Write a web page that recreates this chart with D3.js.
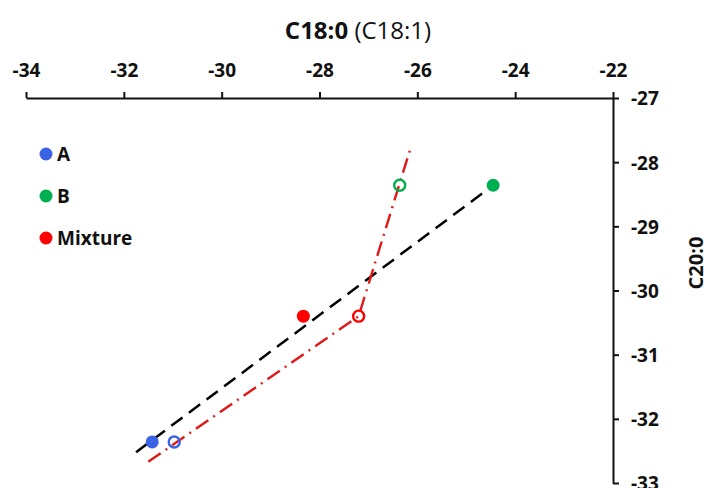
<!DOCTYPE html>
<html>
<head>
<meta charset="utf-8">
<script src="https://cdn.jsdelivr.net/npm/d3@7"></script>
<style>
  body { margin: 0; background: #fff; }
  text { font-family: "Open Sans", sans-serif; }
</style>
</head>
<body>
<div id="chart"></div>
<script>
// data
var groups = ["A", "B", "Mixture"];
var colors = ["#3a63e6", "#00b050", "#ff0000"];
// C18:0 (filled) and C18:1 (open) on x, C20:0 on y
var c180 = [-31.42, -24.45, -28.33];
var c181 = [-30.97, -26.36, -27.2];
var c200 = [-32.36, -28.36, -30.4];

// black dashed line (C18:0 mixing line)
var dashX = [-31.75, -24.45];
var dashY = [-32.52, -28.36];
// red dash-dot line (C18:1 mixing line)
var dotX = [-31.5, -27.2, -26.15];
var dotY = [-32.67, -30.4, -27.81];

var xTicks = [-34, -32, -30, -28, -26, -24, -22];
var yTicks = [-27, -28, -29, -30, -31, -32, -33];

var svgWidth = 709, svgHeight = 488;
var margin = { top: 98, right: 96, bottom: 5, left: 26 };
var width = svgWidth - margin.left - margin.right;
var height = svgHeight - margin.top - margin.bottom;

var svg = d3.select("#chart").append("svg")
  .attr("width", svgWidth)
  .attr("height", svgHeight);

var g = svg.append("g")
  .attr("transform", `translate(${margin.left}, ${margin.top})`);

var x = d3.scaleLinear().domain([-34, -22]).range([0, width]);
var y = d3.scaleLinear().domain([-27, -33]).range([0, height]);

// axes
var xAxis = g.append("g")
  .call(d3.axisTop(x).tickValues(xTicks).tickFormat(d => String(d))
    .tickSize(6).tickSizeOuter(0).tickPadding(15));
var yAxis = g.append("g")
  .attr("transform", `translate(${width}, 0)`)
  .call(d3.axisRight(y).tickValues(yTicks).tickFormat(d => String(d))
    .tickSize(6).tickSizeOuter(0).tickPadding(12));

[xAxis, yAxis].forEach(function(a) {
  a.selectAll("path, line").attr("stroke", "#111").attr("stroke-width", 2);
  a.selectAll("text")
    .attr("fill", "#111")
    .style("font-family", "'Open Sans', sans-serif")
    .style("font-size", "19px")
    .style("font-weight", "bold");
});
yAxis.selectAll("text").attr("dy", "0.36em");

// title
var title = svg.append("text")
  .attr("x", 358)
  .attr("y", 39)
  .attr("text-anchor", "middle")
  .style("font-size", "24px")
  .attr("fill", "#111");
title.append("tspan").style("font-weight", "bold").text("C18:0");
title.append("tspan").text(" (C18:1)");

// y label
svg.append("text")
  .attr("transform", "translate(703, 263) rotate(-90)")
  .attr("text-anchor", "middle")
  .style("font-size", "20px")
  .style("font-weight", "bold")
  .attr("fill", "#111")
  .text("C20:0");

// lines
var line = d3.line().x(d => x(d[0])).y(d => y(d[1]));

g.append("path")
  .datum(dashX.map((v, i) => [v, dashY[i]]))
  .attr("d", line)
  .attr("fill", "none")
  .attr("stroke", "#000")
  .attr("stroke-width", 2.5)
  .attr("stroke-dasharray", "14,8");

g.append("path")
  .datum(dotX.map((v, i) => [v, dotY[i]]))
  .attr("d", line)
  .attr("fill", "none")
  .attr("stroke", "#e01818")
  .attr("stroke-width", 2.4)
  .attr("stroke-dasharray", "15,6,2,6");

// points
var pts = groups.map(function(name, i) {
  return { name: name, color: colors[i], x0: c180[i], x1: c181[i], y: c200[i] };
});

g.selectAll("circle.open")
  .data(pts)
  .enter()
  .append("circle")
  .attr("class", "open")
  .attr("cx", d => x(d.x1))
  .attr("cy", d => y(d.y))
  .attr("r", 5.5)
  .attr("fill", "none")
  .attr("stroke", d => d.color)
  .attr("stroke-width", 2.4);

g.selectAll("circle.filled")
  .data(pts)
  .enter()
  .append("circle")
  .attr("class", "filled")
  .attr("cx", d => x(d.x0))
  .attr("cy", d => y(d.y))
  .attr("r", 6.5)
  .attr("fill", d => d.color);

// legend
var legend = svg.selectAll("g.legend")
  .data(pts)
  .enter()
  .append("g")
  .attr("class", "legend")
  .attr("transform", (d, i) => `translate(46, ${154 + i * 42})`);

legend.append("circle")
  .attr("r", 6.5)
  .attr("fill", d => d.color);

legend.append("text")
  .attr("x", 11)
  .attr("dy", "0.36em")
  .style("font-size", "19px")
  .style("font-weight", "bold")
  .attr("fill", "#111")
  .text(d => d.name);
</script>
</body>
</html>
